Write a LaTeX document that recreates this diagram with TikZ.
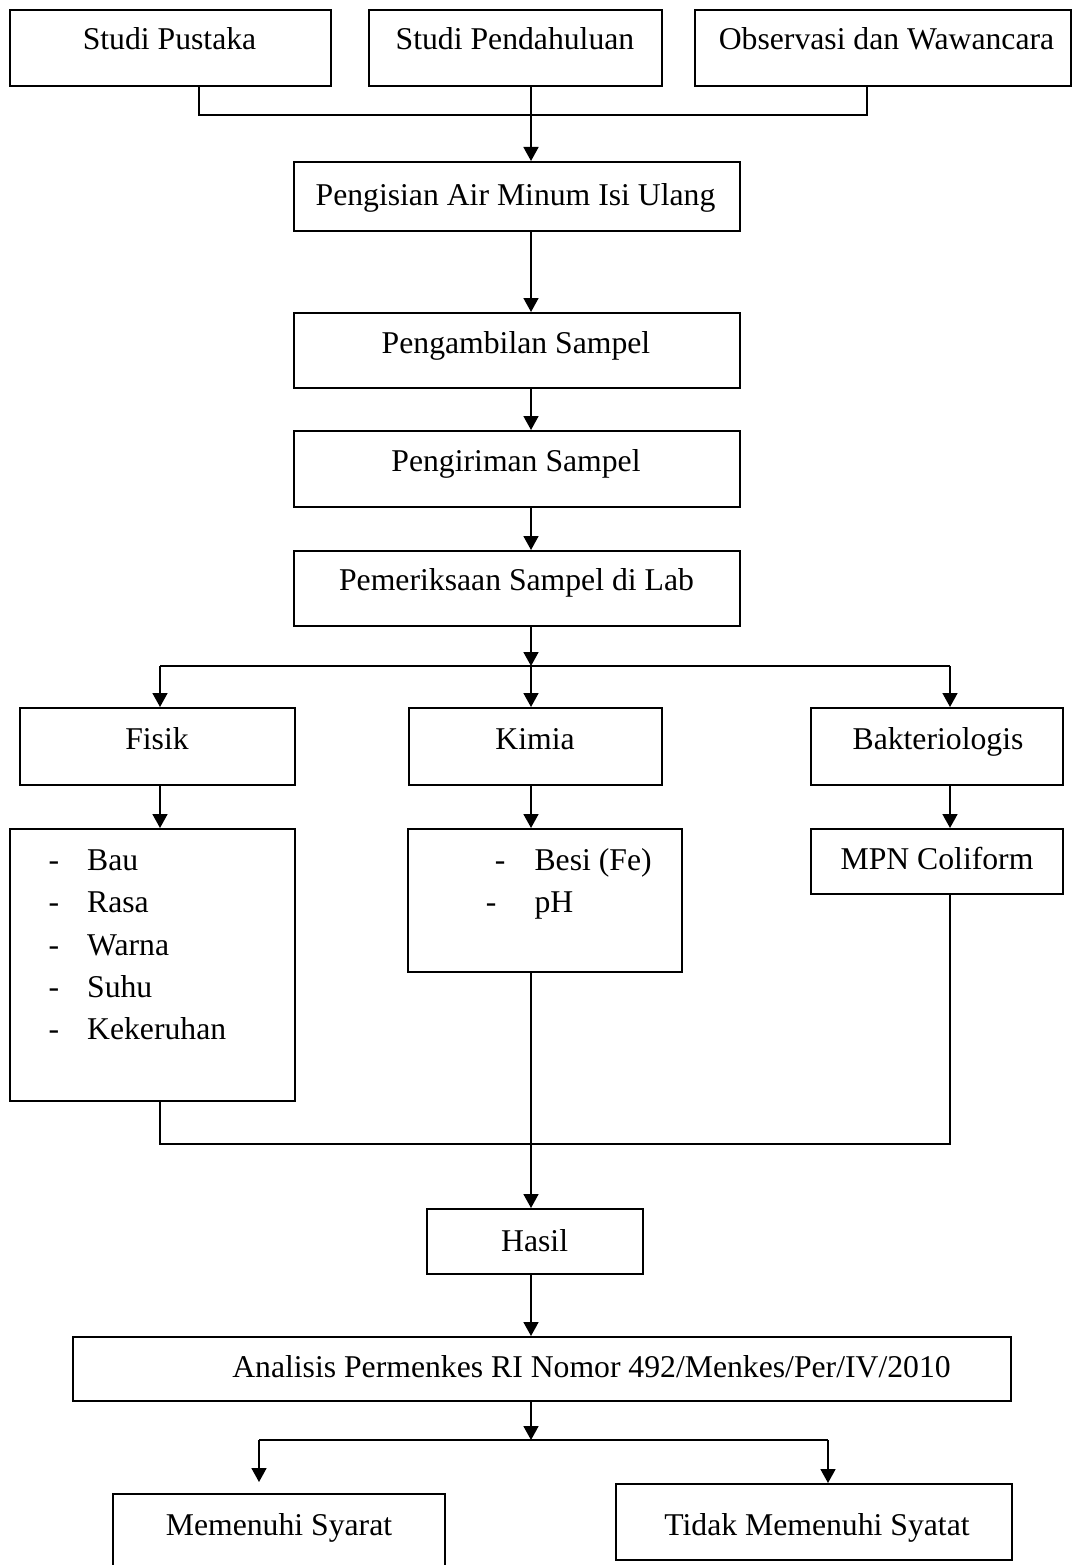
\documentclass[tikz,border=0pt]{standalone}
\usepackage{fontspec}
\setmainfont{Liberation Serif}
\usetikzlibrary{arrows.meta}

\begin{document}
\begin{tikzpicture}[x=1pt, y=-1pt,
                font=\fontsize{31.7}{38}\selectfont,
                kotak/.style 2 args={draw, line width=2pt, inner sep=0pt, minimum width=#1, minimum height=#2},
                teks/.style={inner sep=0pt, anchor=base},
                butir/.style={inner sep=0pt, anchor=base west},
                garis/.style={line width=1.7pt},
                panah/.style={line width=1.7pt, -{Triangle[length=14pt, width=15pt]}}]
            \useasboundingbox (0,0) rectangle (1075,1565);

            \node[kotak={321pt}{76pt}] (pustaka) at (170.5,48) {};
            \node[kotak={293pt}{76pt}] (pendahuluan) at (515.5,48) {};
            \node[kotak={376pt}{76pt}] (observasi) at (883,48) {};
            \node[teks] (tPustaka) at (169.5,50) {Studi Pustaka};
            \node[teks] (tPendahuluan) at (515,50) {Studi Pendahuluan};
            \node[teks] (tObservasi) at (886.5,50) {Observasi dan Wawancara};

            \node[kotak={446pt}{69pt}] (pengisian) at (517,196.5) {};
            \node[kotak={446pt}{75pt}] (pengambilan) at (517,350.5) {};
            \node[kotak={446pt}{76pt}] (pengiriman) at (517,469) {};
            \node[kotak={446pt}{75pt}] (pemeriksaan) at (517,588.5) {};
            \node[teks] (tPengisian) at (515.5,205) {Pengisian Air Minum Isi Ulang};
            \node[teks] (tPengambilan) at (516,353) {Pengambilan Sampel};
            \node[teks] (tPengiriman) at (516,471.5) {Pengiriman Sampel};
            \node[teks] (tPemeriksaan) at (516.5,590.5) {Pemeriksaan Sampel di Lab};

            \node[kotak={275pt}{77pt}] (fisik) at (157.5,746.5) {};
            \node[kotak={253pt}{77pt}] (kimia) at (535.5,746.5) {};
            \node[kotak={252pt}{77pt}] (bakteri) at (937,746.5) {};
            \node[teks] (tFisik) at (157,749) {Fisik};
            \node[teks] (tKimia) at (535,749) {Kimia};
            \node[teks] (tBakteri) at (938,749) {Bakteriologis};

            \node[kotak={285pt}{272pt}] (daftarFisik) at (152.5,965) {};
            \node[kotak={274pt}{143pt}] (daftarKimia) at (545,900.5) {};
            \node[kotak={252pt}{65pt}] (mpn) at (937,861.5) {};
            \node[butir] (bau) at (48.3,870) {\makebox[38.7pt][l]{-}Bau};
            \node[butir] (rasa) at (48.3,912) {\makebox[38.7pt][l]{-}Rasa};
            \node[butir] (warna) at (48.3,955) {\makebox[38.7pt][l]{-}Warna};
            \node[butir] (suhu) at (48.3,997) {\makebox[38.7pt][l]{-}Suhu};
            \node[butir] (keruh) at (48.3,1039) {\makebox[38.7pt][l]{-}Kekeruhan};
            \node[butir] (besi) at (494.7,870) {\makebox[39.7pt][l]{-}Besi (Fe)};
            \node[butir] (ph) at (485.7,912) {\makebox[48.7pt][l]{-}pH};
            \node[teks] (tMpn) at (937,869) {MPN Coliform};

            \node[kotak={216pt}{65pt}] (hasil) at (535,1241.5) {};
            \node[teks] (tHasil) at (534.6,1251) {Hasil};
            \node[kotak={938pt}{64pt}] (analisis) at (542,1369) {};
            \node[teks] (tAnalisis) at (591.5,1377) {Analisis Permenkes RI Nomor 492/Menkes/Per/IV/2010};
            \node[kotak={332pt}{96pt}] (memenuhi) at (279,1542) {};
            \node[kotak={396pt}{76pt}] (tidak) at (814,1522) {};
            \node[teks] (tMemenuhi) at (279,1535) {Memenuhi Syarat};
            \node[teks] (tTidak) at (817,1535) {Tidak Memenuhi Syatat};

            \coordinate (atasKiri) at (199,115);
            \coordinate (atasTengah) at (531,115);
            \coordinate (atasKanan) at (867,115);
            \draw[garis] (pustaka.south -| atasKiri) -- (atasKiri) -- (atasKanan) -- (observasi.south -| atasKanan);
            \draw[garis] (pendahuluan.south -| atasTengah) -- (atasTengah);
            \draw[panah] (atasTengah) -- (pengisian.north -| atasTengah);
            \draw[panah] (pengisian.south -| atasTengah) -- (pengambilan.north -| atasTengah);
            \draw[panah] (pengambilan.south -| atasTengah) -- (pengiriman.north -| atasTengah);
            \draw[panah] (pengiriman.south -| atasTengah) -- (pemeriksaan.north -| atasTengah);

            \coordinate (cabangKiri) at (160,666);
            \coordinate (cabang) at (531,666);
            \coordinate (cabangKanan) at (950,666);
            \draw[panah] (pemeriksaan.south -| cabang) -- (cabang);
            \draw[garis] (cabangKiri) -- (cabangKanan);
            \draw[panah] (cabangKiri) -- (fisik.north -| cabangKiri);
            \draw[panah] (cabang) -- (kimia.north -| cabang);
            \draw[panah] (cabangKanan) -- (bakteri.north -| cabangKanan);
            \draw[panah] (fisik.south -| cabangKiri) -- (daftarFisik.north -| cabangKiri);
            \draw[panah] (kimia.south -| cabang) -- (daftarKimia.north -| cabang);
            \draw[panah] (bakteri.south -| cabangKanan) -- (mpn.north -| cabangKanan);

            \coordinate (bawahKiri) at (160,1144);
            \coordinate (bawahTengah) at (531,1144);
            \coordinate (bawahKanan) at (950,1144);
            \draw[garis] (daftarFisik.south -| bawahKiri) -- (bawahKiri) -- (bawahKanan) -- (mpn.south -| bawahKanan);
            \draw[panah] (daftarKimia.south -| bawahTengah) -- (hasil.north -| bawahTengah);
            \draw[panah] (hasil.south -| bawahTengah) -- (analisis.north -| bawahTengah);

            \coordinate (akhirKiri) at (259,1440);
            \coordinate (akhir) at (531,1440);
            \coordinate (akhirKanan) at (828,1440);
            \draw[panah] (analisis.south -| akhir) -- (akhir);
            \draw[garis] (akhirKiri) -- (akhirKanan);
            \draw[panah, shorten >=11pt] (akhirKiri) -- (memenuhi.north -| akhirKiri);
            \draw[panah] (akhirKanan) -- (tidak.north -| akhirKanan);
        \end{tikzpicture}
\end{document}
